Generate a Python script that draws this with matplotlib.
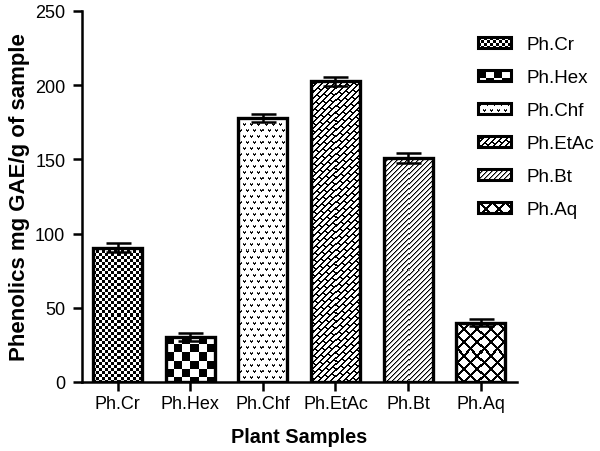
import numpy as np
import matplotlib
matplotlib.use('Agg')
import matplotlib.pyplot as plt
from matplotlib.patches import Rectangle
from matplotlib.legend_handler import HandlerBase
from matplotlib.image import BboxImage
from matplotlib.transforms import Bbox, TransformedBbox
from matplotlib.colors import Normalize

plt.rcParams['font.family'] = ['Liberation Sans', 'DejaVu Sans']

categories = ['Ph.Cr', 'Ph.Hex', 'Ph.Chf', 'Ph.EtAc', 'Ph.Bt', 'Ph.Aq']
values = [90.5, 30.5, 178.0, 202.5, 151.0, 40.0]
errors = [3.0, 2.7, 2.5, 3.3, 3.3, 2.5]
yticks = [0, 50, 100, 150, 200, 250]
patterns = ['fine_check', 'big_check', 'dots', 'brick', 'diag', 'cross']

DPI = 100


def texture(kind, h, w):
    h = max(int(round(h)), 1)
    w = max(int(round(w)), 1)
    r, c = np.mgrid[0:h, 0:w]
    m = np.zeros((h, w))
    if kind == 'fine_check':
        m[((r // 3 + c // 3) % 2) == 0] = 1.0
    elif kind == 'big_check':
        m[((r // 8 + c // 8) % 2) == 0] = 1.0
    elif kind == 'dots':
        rr = r % 6
        blk = r // 6
        cc = (c + 3 * (blk % 2)) % 7
        m[(rr == 0) & ((cc == 1) | (cc == 3))] = 0.8
        m[(rr == 1) & (cc >= 1) & (cc <= 3)] = 0.95
        m[(rr == 2) & (cc == 2)] = 0.95
    elif kind == 'brick':
        s = c + r
        k = s // 6
        m[(s % 6) < 2] = 1.0
        m[((c - r + 8 * k) % 16) < 2] = 1.0
    elif kind == 'diag':
        s = (c + r) % 5
        m[s == 0] = 1.0
        m[s == 1] = 0.45
    elif kind == 'cross':
        m[((c + r) % 13) < 3] = 1.0
        m[((c - r) % 13) < 3] = 1.0
    return m


fig = plt.figure(figsize=(6.0, 4.52), dpi=DPI)
ax_left, ax_bottom = 82 / 600, 69 / 452
ax_w, ax_h = (517 - 82) / 600, 371 / 452
ax = fig.add_axes([ax_left, ax_bottom, ax_w, ax_h])

xlim = (-0.49, 5.5)
ylim = (0, 250)
bar_w = 0.675
x = np.arange(len(categories))

px_per_x = ax_w * 600 / (xlim[1] - xlim[0])
px_per_y = ax_h * 452 / (ylim[1] - ylim[0])

norm = Normalize(0, 1)
for xi, v, kind in zip(x, values, patterns):
    tex = texture(kind, v * px_per_y, bar_w * px_per_x)
    ax.imshow(tex, cmap='gray_r', norm=norm, interpolation='nearest',
              extent=(xi - bar_w / 2, xi + bar_w / 2, 0, v), aspect='auto',
              zorder=1)

ax.bar(x, values, width=bar_w, facecolor='none', edgecolor='black',
       linewidth=2.4, zorder=2)
ax.errorbar(x, values, yerr=errors, fmt='none', ecolor='black',
            elinewidth=1.8, capsize=9, capthick=1.8, zorder=3)

ax.set_xlim(*xlim)
ax.set_ylim(*ylim)
ax.set_aspect('auto')
ax.set_xticks(x)
ax.set_xticklabels(categories, fontsize=13)
ax.set_yticks(yticks)
ax.set_yticklabels([str(t) for t in yticks], fontsize=13)
for sp in ['top', 'right']:
    ax.spines[sp].set_visible(False)
for sp in ['left', 'bottom']:
    ax.spines[sp].set_linewidth(1.8)
ax.tick_params(axis='both', direction='out', length=6.5, width=1.8)
ax.tick_params(axis='y', pad=5.5)
ax.tick_params(axis='x', pad=3)

ax.set_xlabel('Plant Samples', fontsize=14.3, fontweight='bold', labelpad=11)
ax.set_ylabel('Phenolics mg GAE/g of sample', fontsize=16, fontweight='bold',
              labelpad=4)


class TextureHandler(HandlerBase):
    def create_artists(self, legend, orig_handle, xdescent, ydescent,
                       width, height, fontsize, trans):
        kind = orig_handle.get_gid()
        w_px = width * DPI / 72.0
        h_px = height * DPI / 72.0
        bb = TransformedBbox(Bbox.from_bounds(-xdescent, -ydescent, width, height), trans)
        img = BboxImage(bb, cmap='gray_r', norm=norm, interpolation='nearest')
        img.set_data(texture(kind, h_px, w_px))
        rect = Rectangle((-xdescent, -ydescent), width, height,
                         facecolor='none', edgecolor='black', linewidth=2.2,
                         transform=trans)
        return [img, rect]


handles = []
for cat, kind in zip(categories, patterns):
    p = Rectangle((0, 0), 1, 1, label=cat)
    p.set_gid(kind)
    handles.append(p)

leg = fig.legend(handles=handles, labels=categories,
                 handler_map={Rectangle: TextureHandler()},
                 loc='upper left', bbox_to_anchor=(465 / 600, 1 - 24 / 452),
                 frameon=False, fontsize=13.5, handlelength=1.75,
                 handleheight=0.5, labelspacing=0.85, handletextpad=0.85,
                 borderpad=0.2)

fig.savefig('out.png', dpi=DPI)
